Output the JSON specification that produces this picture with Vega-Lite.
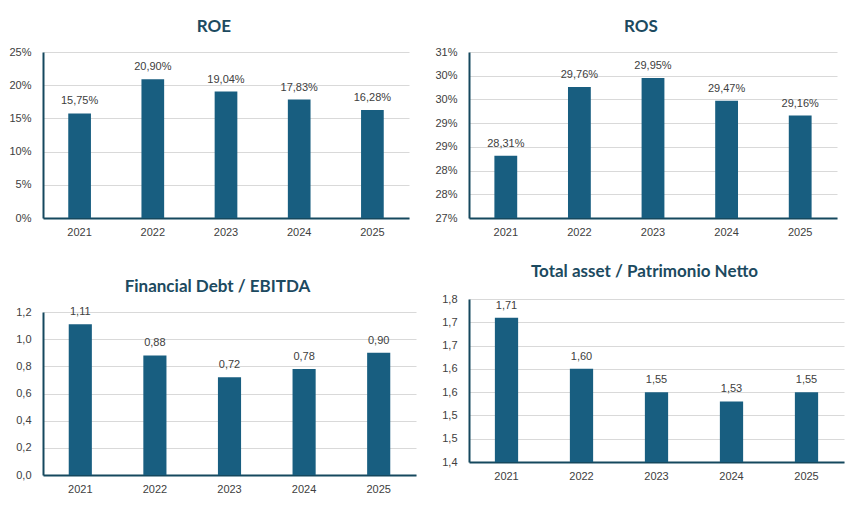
{
  "$schema": "https://vega.github.io/schema/vega-lite/v6.json",
  "background": "white",
  "padding": {"left": 8, "top": 18, "right": 5, "bottom": 5},
  "config": {
    "locale": {"number": {"decimal": ",", "thousands": ".", "grouping": [3], "currency": ["", " €"]}},
    "view": {"stroke": null},
    "font": "Liberation Sans",
    "title": {"font": "Lato", "fontSize": 17, "fontWeight": "bold", "color": "#1c4a60", "anchor": "middle", "offset": 10, "dx": -12},
    "axis": {"labelFont": "Liberation Sans", "labelFontSize": 11, "labelColor": "#404040", "ticks": false, "domainColor": "#15485e", "domainWidth": 2, "gridColor": "#d9d9d9", "gridWidth": 1, "title": null},
    "axisX": {"grid": false, "labelAngle": 0, "labelPadding": 8, "zindex": 1},
    "axisY": {"labelPadding": 12},
    "bar": {"color": "#185e80"},
    "text": {"font": "Liberation Sans", "fontSize": 11, "color": "#404040", "baseline": "bottom", "dy": -7}
  },
  "datasets": {
    "roe": [
      {"year": "2021", "value": 0.1575},
      {"year": "2022", "value": 0.2090},
      {"year": "2023", "value": 0.1904},
      {"year": "2024", "value": 0.1783},
      {"year": "2025", "value": 0.1628}
    ],
    "ros": [
      {"year": "2021", "value": 0.2831},
      {"year": "2022", "value": 0.2976},
      {"year": "2023", "value": 0.2995},
      {"year": "2024", "value": 0.2947},
      {"year": "2025", "value": 0.2916}
    ],
    "debt": [
      {"year": "2021", "value": 1.11},
      {"year": "2022", "value": 0.88},
      {"year": "2023", "value": 0.72},
      {"year": "2024", "value": 0.78},
      {"year": "2025", "value": 0.90}
    ],
    "leverage": [
      {"year": "2021", "value": 1.71},
      {"year": "2022", "value": 1.60},
      {"year": "2023", "value": 1.55},
      {"year": "2024", "value": 1.53},
      {"year": "2025", "value": 1.55}
    ]
  },
  "spacing": 17,
  "hconcat": [
    {
      "spacing": 41,
      "vconcat": [
        {
          "title": "ROE",
          "width": 366,
          "height": 166,
          "data": {"name": "roe"},
          "encoding": {
            "x": {"field": "year", "type": "nominal", "scale": {"paddingInner": 0, "paddingOuter": 0}},
            "y": {
              "field": "value", "type": "quantitative",
              "scale": {"domain": [0, 0.25], "nice": false},
              "axis": {"values": [0, 0.05, 0.1, 0.15, 0.2, 0.25], "labelExpr": "floor(datum.value * 100 + 0.5000001) + '%'", "minExtent": 34, "maxExtent": 34}
            }
          },
          "layer": [
            {"mark": {"type": "bar", "width": {"band": 0.31}}},
            {"mark": {"type": "text"}, "encoding": {"text": {"field": "value", "type": "quantitative", "format": ".2%"}}}
          ]
        },
        {
          "title": "Financial Debt / EBITDA",
          "width": 373,
          "height": 163,
          "data": {"name": "debt"},
          "encoding": {
            "x": {"field": "year", "type": "nominal", "scale": {"paddingInner": 0, "paddingOuter": 0}},
            "y": {
              "field": "value", "type": "quantitative",
              "scale": {"domain": [0, 1.2], "nice": false},
              "axis": {"values": [0, 0.2, 0.4, 0.6, 0.8, 1.0, 1.2], "format": ".1f", "minExtent": 33, "maxExtent": 33}
            }
          },
          "layer": [
            {"mark": {"type": "bar", "width": {"band": 0.31}}},
            {"mark": {"type": "text"}, "encoding": {"text": {"field": "value", "type": "quantitative", "format": ".2f"}}}
          ]
        }
      ]
    },
    {
      "spacing": 26,
      "vconcat": [
        {
          "title": "ROS",
          "width": 368,
          "height": 166,
          "data": {"name": "ros"},
          "encoding": {
            "x": {"field": "year", "type": "nominal", "scale": {"paddingInner": 0, "paddingOuter": 0}},
            "y": {
              "field": "value", "type": "quantitative",
              "scale": {"domain": [0.27, 0.305], "nice": false, "zero": false, "clamp": true},
              "axis": {"values": [0.27, 0.275, 0.28, 0.285, 0.29, 0.295, 0.3, 0.305], "labelExpr": "floor(datum.value * 100 + 0.5000001) + '%'", "minExtent": 34, "maxExtent": 34}
            }
          },
          "layer": [
            {"mark": {"type": "bar", "width": {"band": 0.31}}},
            {"mark": {"type": "text"}, "encoding": {"text": {"field": "value", "type": "quantitative", "format": ".2%"}}}
          ]
        },
        {
          "title": {"text": "Total asset /  Patrimonio Netto", "offset": 12},
          "width": 375,
          "height": 163,
          "data": {"name": "leverage"},
          "encoding": {
            "x": {"field": "year", "type": "nominal", "scale": {"paddingInner": 0, "paddingOuter": 0}},
            "y": {
              "field": "value", "type": "quantitative",
              "scale": {"domain": [1.4, 1.75], "nice": false, "zero": false, "clamp": true},
              "axis": {"values": [1.4, 1.45, 1.5, 1.55, 1.6, 1.65, 1.7, 1.75], "labelExpr": "format(floor(datum.value * 10 + 0.5000001) / 10, '.1f')", "minExtent": 36, "maxExtent": 36}
            }
          },
          "layer": [
            {"mark": {"type": "bar", "width": {"band": 0.31}}},
            {"mark": {"type": "text"}, "encoding": {"text": {"field": "value", "type": "quantitative", "format": ".2f"}}}
          ]
        }
      ]
    }
  ]
}
